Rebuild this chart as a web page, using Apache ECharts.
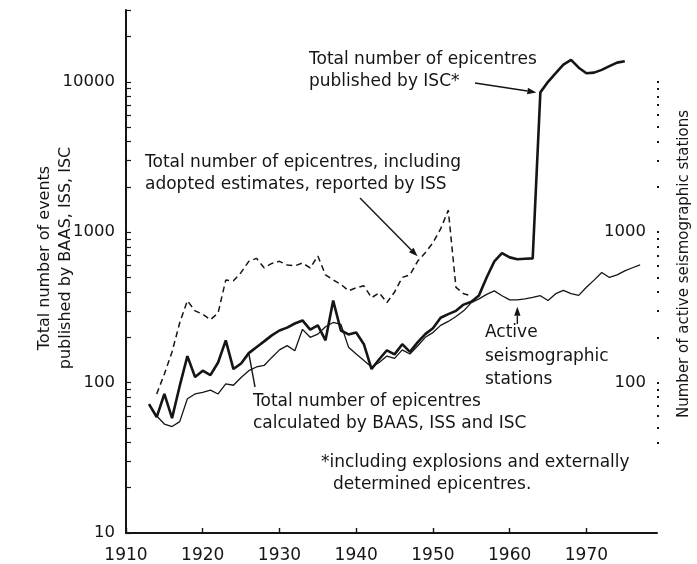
<!DOCTYPE html>
<html>
<head>
<meta charset="utf-8">
<script src="https://cdn.jsdelivr.net/npm/echarts@6/dist/echarts.min.js"></script>
<style>
  html, body { margin: 0; padding: 0; background: #ffffff; }
  #chart { width: 697px; height: 564px; }
</style>
</head>
<body>
<div id="chart"></div>
<script>
// Epicentres reported by ISS, including adopted estimates (dashed)
const issYears = [1914, 1915, 1916, 1917, 1918, 1919, 1920, 1921, 1922, 1923, 1924, 1925, 1926, 1927,
  1928, 1929, 1930, 1931, 1932, 1933, 1934, 1935, 1936, 1937, 1938, 1939, 1940, 1941, 1942, 1943,
  1944, 1945, 1946, 1947, 1948, 1949, 1950, 1951, 1952, 1953, 1954, 1955];
const issValues = [84, 114, 160, 250, 350, 300, 285, 262, 290, 480, 475, 540, 640, 670,
  580, 620, 640, 606, 597, 624, 578, 694, 520, 482, 450, 408, 427, 440, 367, 395,
  340, 400, 500, 520, 640, 730, 850, 1050, 1400, 430, 390, 378];

// Epicentres calculated by BAAS, ISS and ISC; published by ISC from 1964 (thick)
const totalYears = [1913, 1914, 1915, 1916, 1917, 1918, 1919, 1920, 1921, 1922, 1923, 1924, 1925,
  1926, 1927, 1928, 1929, 1930, 1931, 1932, 1933, 1934, 1935, 1936, 1937, 1938, 1939, 1940, 1941,
  1942, 1943, 1944, 1945, 1946, 1947, 1948, 1949, 1950, 1951, 1952, 1953, 1954, 1955, 1956, 1957,
  1958, 1959, 1960, 1961, 1962, 1963, 1964, 1965, 1966, 1967, 1968, 1969, 1970, 1971, 1972, 1973,
  1974, 1975];
const totalValues = [72, 59, 84, 58, 95, 150, 109, 120, 112, 136, 191, 123, 134,
  157, 172, 188, 206, 222, 232, 247, 259, 225, 240, 191, 351, 222, 209, 215, 180,
  123, 143, 164, 154, 180, 160, 185, 210, 230, 270, 285, 300, 330, 345, 380, 500,
  640, 726, 680, 660, 665, 670, 8500, 10000, 11400, 13000, 14000, 12400, 11400, 11500, 12000, 12700,
  13400, 13700];

// Active seismographic stations (thin)
const stationYears = [1913, 1914, 1915, 1916, 1917, 1918, 1919, 1920, 1921, 1922, 1923, 1924, 1925,
  1926, 1927, 1928, 1929, 1930, 1931, 1932, 1933, 1934, 1935, 1936, 1937, 1938, 1939, 1940, 1941,
  1942, 1943, 1944, 1945, 1946, 1947, 1948, 1949, 1950, 1951, 1952, 1953, 1954, 1955, 1956, 1957,
  1958, 1959, 1960, 1961, 1962, 1963, 1964, 1965, 1966, 1967, 1968, 1969, 1970, 1971, 1972, 1973,
  1974, 1975, 1976, 1977];
const stationValues = [72, 60, 53, 51, 55, 78, 84, 86, 89, 84, 98, 96, 108,
  120, 127, 130, 147, 165, 176, 163, 226, 200, 210, 235, 251, 244, 172, 155, 140,
  127, 136, 150, 145, 165, 155, 175, 200, 215, 240, 255, 275, 300, 340, 360, 386,
  407, 378, 355, 355, 360, 368, 378, 351, 390, 410, 390, 380, 430, 480, 540, 500,
  520, 553, 580, 606];

// Axis ticks and labels
const yearTicks = [1910, 1920, 1930, 1940, 1950, 1960, 1970];
const leftLabels = [10, 100, 1000, 10000];
const rightLabels = [100, 1000];

const FONT = 'DejaVu Sans';
const INK = '#151515';
const TEXT_FONT = '17px "' + FONT + '"';

// log-scale tick positions: 1..9 times each power of ten
const logTicks = [];
for (let e = 1; e <= 4; e++) {
  for (let m = 1; m <= 9; m++) {
    const v = m * Math.pow(10, e);
    if (v <= 30000) logTicks.push(v);
  }
}
const stationTicks = logTicks.filter(v => v >= 40 && v <= 10000);

const pairs = (xs, ys) => xs.map((x, i) => [x, ys[i]]);
const plain = v => String(Math.round(v));

const chart = echarts.init(document.getElementById('chart'), null, { renderer: 'canvas' });

chart.setOption({
  animation: false,
  backgroundColor: '#ffffff',
  grid: { left: 126, right: 40, top: 10, bottom: 27 },
  xAxis: {
    type: 'value',
    min: 1910,
    max: 1979.2,
    axisLine: { lineStyle: { color: INK, width: 2 } },
    axisTick: { inside: true, length: 5, customValues: yearTicks, lineStyle: { color: INK, width: 1.4 } },
    axisLabel: { customValues: yearTicks, formatter: plain, color: INK, fontFamily: FONT, fontSize: 17, margin: 14 },
    splitLine: { show: false }
  },
  yAxis: [
    {
      type: 'log',
      logBase: 10,
      min: 10,
      max: 30000,
      axisLine: { show: true, lineStyle: { color: INK, width: 2 } },
      axisTick: { show: true, inside: true, length: 5, customValues: logTicks, lineStyle: { color: INK, width: 1.2 } },
      axisLabel: { customValues: leftLabels, formatter: plain, color: INK, fontFamily: FONT, fontSize: 16.5, margin: 11 },
      splitLine: { show: false }
    },
    {
      type: 'log',
      logBase: 10,
      min: 10,
      max: 30000,
      position: 'right',
      offset: 2,
      axisLine: { show: false },
      axisTick: { show: true, inside: true, length: 2, customValues: stationTicks, lineStyle: { color: INK, width: 2 } },
      axisLabel: { inside: true, customValues: rightLabels, formatter: plain, color: INK, fontFamily: FONT, fontSize: 16.5, margin: 13 },
      splitLine: { show: false }
    }
  ],
  series: [
    {
      name: 'ISS',
      type: 'line',
      data: pairs(issYears, issValues),
      showSymbol: false,
      symbol: 'none',
      lineStyle: { color: INK, width: 1.5, type: [6, 4] }
    },
    {
      name: 'Total',
      type: 'line',
      data: pairs(totalYears, totalValues),
      showSymbol: false,
      symbol: 'none',
      lineStyle: { color: INK, width: 2.6 }
    },
    {
      name: 'Stations',
      type: 'line',
      yAxisIndex: 1,
      data: pairs(stationYears, stationValues),
      showSymbol: false,
      symbol: 'none',
      lineStyle: { color: INK, width: 1.3 }
    }
  ]
});

// Annotations: labels, arrows and pointer lines
const px = (year, value) => chart.convertToPixel({ xAxisIndex: 0, yAxisIndex: 0 }, [year, value]);

function arrow(p0, p1) {
  const dx = p1[0] - p0[0], dy = p1[1] - p0[1];
  const len = Math.hypot(dx, dy);
  const ux = dx / len, uy = dy / len;
  const L = 9, W = 3.2;
  const bx = p1[0] - ux * L, by = p1[1] - uy * L;
  return [
    { type: 'line', shape: { x1: p0[0], y1: p0[1], x2: bx, y2: by }, style: { stroke: INK, lineWidth: 1.4 } },
    { type: 'polygon', shape: { points: [[p1[0], p1[1]], [bx - uy * W, by + ux * W], [bx + uy * W, by - ux * W]] }, style: { fill: INK } }
  ];
}

function label(text, x, y, lineHeight) {
  return {
    type: 'text',
    x: x,
    y: y,
    style: {
      text: text,
      fill: INK,
      font: TEXT_FONT,
      lineHeight: lineHeight,
      textVerticalAlign: 'top'
    }
  };
}

const iscTip = px(1964, 8500);
const issTip = px(1948, 640);
const staTip = px(1961, 355);
const baasTip = px(1926, 157);

const graphics = [
  label('Total number of epicentres\npublished by ISC*', 309, 49, 22),
  label('Total number of epicentres, including\nadopted estimates, reported by ISS', 145, 152, 22),
  label('Active\nseismographic\nstations', 485, 321, 23.5),
  label('Total number of epicentres\ncalculated by BAAS, ISS and ISC', 253, 391, 21.5),
  label('*including explosions and externally', 321, 452, 22),
  label('determined epicentres.', 333, 474, 22),
  {
    type: 'text', x: 55, y: 258, rotation: Math.PI / 2,
    style: { text: 'Total number of events\npublished by BAAS, ISS, ISC', fill: INK, font: '16px "' + FONT + '"',
      lineHeight: 21, textAlign: 'center', textVerticalAlign: 'middle' }
  },
  {
    type: 'text', x: 684, y: 264, rotation: Math.PI / 2,
    style: { text: 'Number of active seismographic stations', fill: INK, font: '15px "' + FONT + '"',
      textAlign: 'center', textVerticalAlign: 'middle' }
  },
  { type: 'line', shape: { x1: baasTip[0], y1: baasTip[1], x2: 255, y2: 387 }, style: { stroke: INK, lineWidth: 1.4 } }
]
  .concat(arrow([475, 83], [iscTip[0] - 4, iscTip[1]]))
  .concat(arrow([360, 198], [issTip[0], issTip[1] - 5]))
  .concat(arrow([staTip[0], 324], [staTip[0], staTip[1] + 7]));

chart.setOption({ graphic: graphics });
</script>
</body>
</html>
